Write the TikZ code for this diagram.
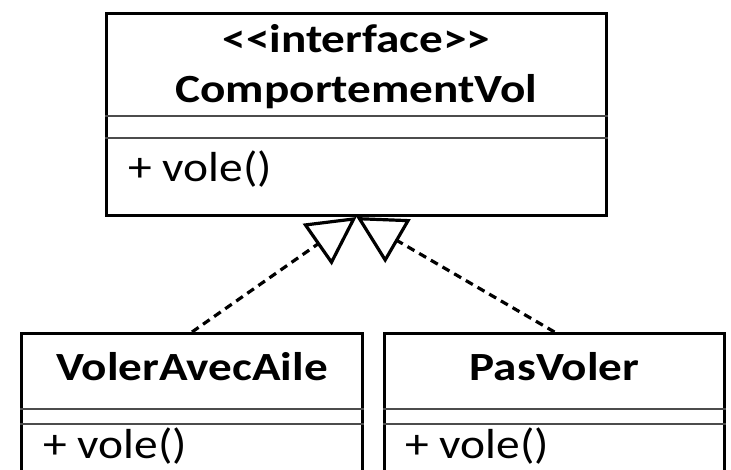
\documentclass[tikz,border=0pt]{standalone}
\usepackage{fontspec}
\setmainfont{Carlito}
\newfontfamily\titlefont[FakeStretch=1.18]{Carlito}
\newfontfamily\methodfont[FakeStretch=1.13]{Carlito}
\usepackage{tikz}
\usetikzlibrary{arrows.meta}

\begin{document}
\begin{tikzpicture}[x=1pt, y=-1pt,
        classbox/.style={draw, line width=3pt, rectangle, inner sep=0pt},
        sep/.style={line width=1.2pt, black!70},
        title/.style={anchor=base, inner sep=0pt, font=\titlefont\fontsize{40}{40}\selectfont\bfseries},
        method/.style={anchor=base west, inner sep=0pt, font=\methodfont\fontsize{42}{42}\selectfont},
        realise/.style={line width=3.2pt, dash pattern=on 8pt off 5.5pt, -{Triangle[open, length=48pt, width=50pt]}}]
    \clip (0,0) rectangle (731,470);

    \node[classbox, minimum width=500pt, minimum height=202pt] at (356.5,114.5) (vol) {};
    \node[title] at (356.5,53) (volst) {{<}{<}interface{>}{>}};
    \node[title] at (356.5,103) (volname) {ComportementVol};
    \draw[sep] (vol.west |- 0,116) -- (vol.east |- 0,116);
    \draw[sep] (vol.west |- 0,138) -- (vol.east |- 0,138);
    \node[method] at (128,182) (volm) {+ vole()};

    \node[classbox, minimum width=341pt, minimum height=160pt] at (192,413.5) (aile) {};
    \node[title] at (192,380) (ailename) {VolerAvecAile};
    \draw[sep] (aile.west |- 0,409) -- (aile.east |- 0,409);
    \draw[sep] (aile.west |- 0,424) -- (aile.east |- 0,424);
    \node[method] at (43,458) (ailem) {+ vole()};

    \node[classbox, minimum width=340pt, minimum height=160pt] at (554.5,413.5) (pas) {};
    \node[title] at (554.5,380) (pasname) {PasVoler};
    \draw[sep] (pas.west |- 0,409) -- (pas.east |- 0,409);
    \draw[sep] (pas.west |- 0,424) -- (pas.east |- 0,424);
    \node[method] at (405,458) (pasm) {+ vole()};

    \draw[realise] (aile.north) -- (vol.south);
    \draw[realise] (pas.north) -- (vol.south);
\end{tikzpicture}
\end{document}
